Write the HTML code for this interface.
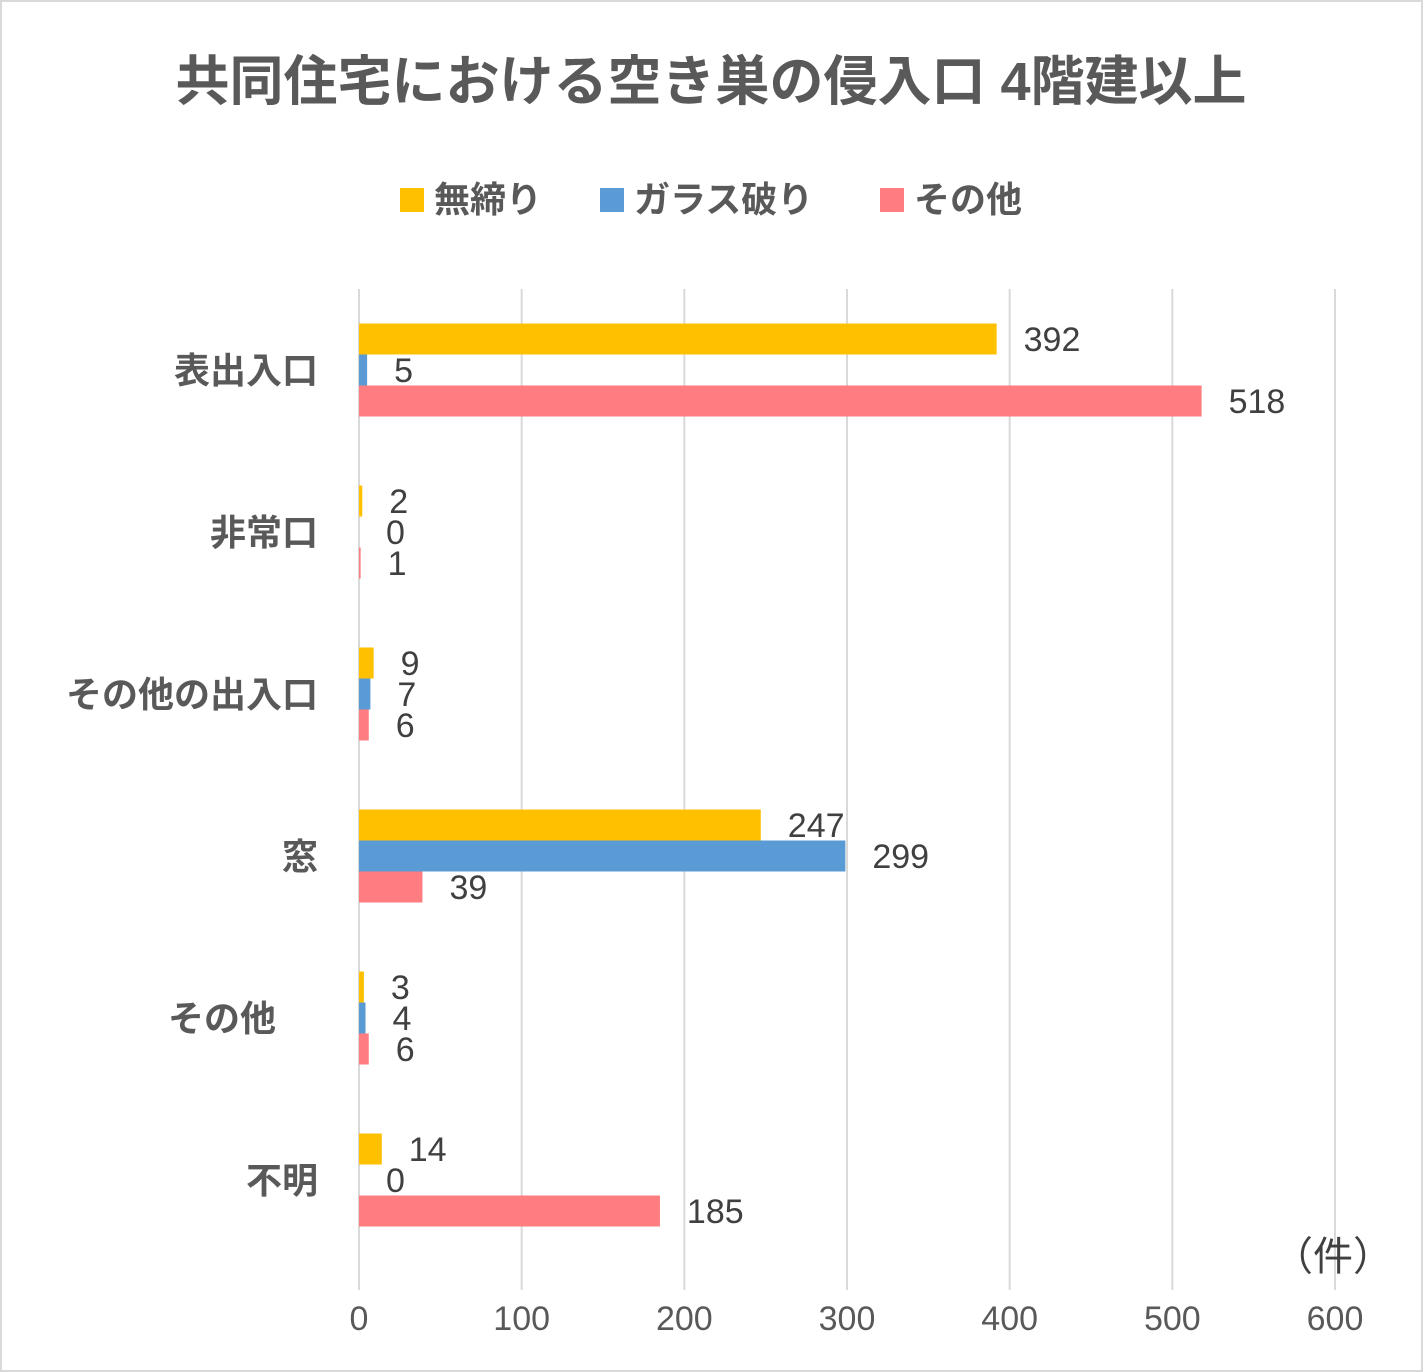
<!DOCTYPE html>
<html><head><meta charset="utf-8"><style>
html,body{margin:0;padding:0;background:#fff}
svg{display:block}
text{font-family:"Liberation Sans","Noto Sans CJK JP",sans-serif}
</style></head><body>
<svg id="chart" width="1423" height="1372" viewBox="0 0 1423 1372" xmlns="http://www.w3.org/2000/svg">
<rect x="1" y="1" width="1421" height="1370" fill="#fff" stroke="#d9d9d9" stroke-width="2"/>
<text x="711" y="100" text-anchor="middle" font-size="54" font-weight="bold" fill="#595959">共同住宅における空き巣の侵入口 4階建以上</text>
<g id="legend"></g>
<g id="grid"></g>
<g id="bars"></g>
<g id="labels"></g>
<g id="cats"></g>
<g id="ticks"></g>
<text x="1333" y="1270" text-anchor="middle" font-size="40" fill="#404040">（件）</text>
</svg>
<script>
const categories = ["表出入口","非常口","その他の出入口","窓","その他","不明"];
const seriesNames = ["無締り","ガラス破り","その他"];
const seriesMuzime = [392,2,9,247,3,14];
const seriesGlass = [5,0,7,299,4,0];
const seriesOther = [518,1,6,39,6,185];
const tickValues = [0,100,200,300,400,500,600];

const barColors = ["#ffc000","#5b9bd5","#ff7c80"];
const allSeries = [seriesMuzime, seriesGlass, seriesOther];
const SVGNS = "http://www.w3.org/2000/svg";
const axX0 = 359, axX1 = 1335, xMax = 600;
const plotTop = 289, band = 162, barH = 31;
const xs = v => axX0 + v / xMax * (axX1 - axX0);
const catY = i => plotTop + band * i + band / 2;
function mk(tag, attrs, parent, text) {
  const el = document.createElementNS(SVGNS, tag);
  for (const k in attrs) el.setAttribute(k, attrs[k]);
  if (text !== undefined) el.textContent = text;
  document.getElementById(parent).appendChild(el);
  return el;
}
tickValues.forEach(t => {
  const g = mk("line", {x1: xs(t), x2: xs(t), y1: plotTop, y2: 1290, stroke: "#d9d9d9", "stroke-width": 2}, "grid");
  
  
  const tl = mk("text", {x: xs(t), y: 1330, "text-anchor": "middle", "font-size": 34, fill: "#595959"}, "ticks", String(t));
  
  
});
categories.forEach((c, i) => {
  const cy = catY(i);
  const cl = mk("text", {x: c === "その他" ? 276 : 318, y: cy + 13, "text-anchor": "end", "font-size": 36, "font-weight": "bold", fill: "#595959"}, "cats", c);
  
  
  allSeries.forEach((s, j) => {
    const v = s[i];
    const y = cy - 1.5 * barH + j * barH;
    const r = mk("rect", {x: axX0, y: y, width: Math.max(0, xs(v) - axX0), height: barH, fill: barColors[j]}, "bars");
    
    
    const l = mk("text", {x: xs(v) + 27, y: y + barH / 2 + 12, "font-size": 34, fill: "#404040"}, "labels", String(v));
    
    
  });
});
const legX = [400, 600, 880];
seriesNames.forEach((n, j) => {
  const r = mk("rect", {x: legX[j], y: 188, width: 24, height: 24, fill: barColors[j]}, "legend");
  
  
  const t = mk("text", {x: legX[j] + 34, y: 212, "font-size": 36, "font-weight": "bold", fill: "#595959"}, "legend", n);
  
  
});
</script>
</body></html>
